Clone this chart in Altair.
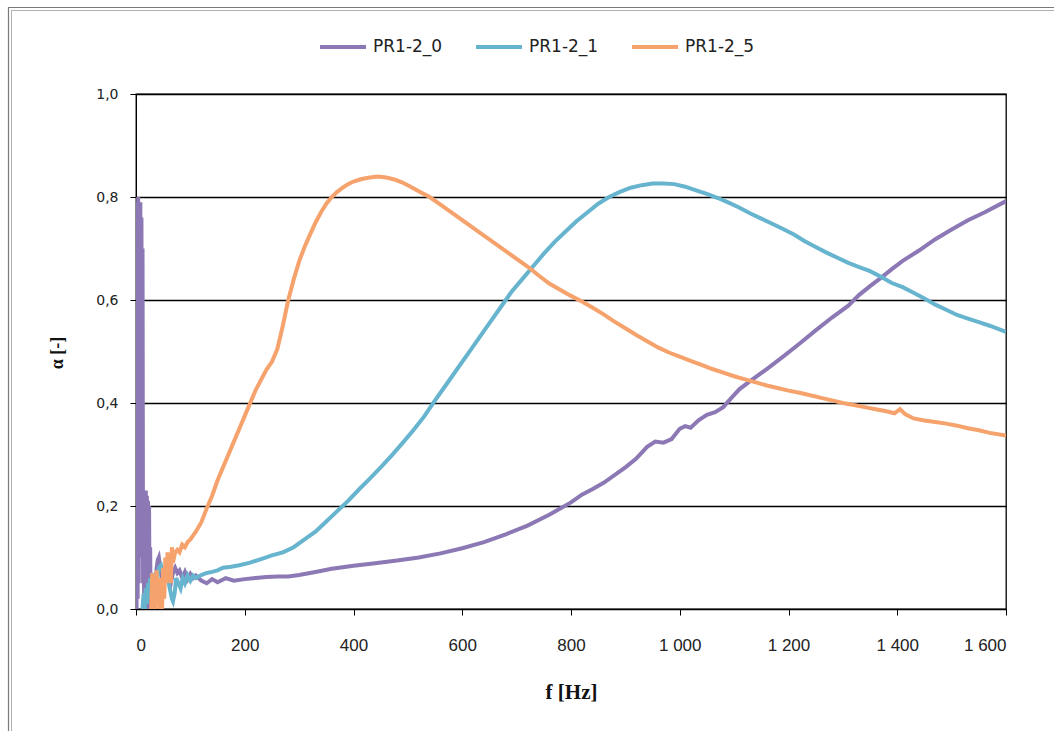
import altair as alt
import pandas as pd

# ---- data ----
series_names = ["PR1-2_0", "PR1-2_1", "PR1-2_5"]
series_colors = ["#8c78b4", "#67b4cf", "#f6a26c"]

pr0_f = [1, 2, 3, 4, 5, 6, 7, 8, 9, 10, 11, 12, 13, 14, 15, 16, 17, 18, 19, 20,
         21, 22, 23, 24, 25, 26, 27, 28, 30, 32, 34, 36, 38, 40, 42, 44, 46, 48,
         50, 53, 56, 60, 64, 68, 72, 76, 80, 85, 90, 95, 100, 105, 110, 120, 130,
         140, 150, 165, 180, 200, 220, 240, 260, 280, 300, 330, 360, 400, 440,
         480, 520, 560, 600, 640, 680, 720, 760, 800, 820, 840, 860, 880, 900,
         920, 940, 955, 970, 985, 1000, 1010, 1020, 1035, 1050, 1065, 1080, 1095,
         1110, 1130, 1160, 1190, 1220, 1250, 1280, 1310, 1330, 1350, 1370, 1390,
         1410, 1440, 1470, 1500, 1530, 1560, 1600]
pr0_a = [0.0, 0.79, 0.02, 0.80, 0.05, 0.78, 0.10, 0.79, 0.15, 0.76, 0.20, 0.70,
         0.05, 0.23, 0.0, 0.22, 0.03, 0.23, 0.01, 0.22, 0.0, 0.21, 0.02, 0.20,
         0.0, 0.12, 0.0, 0.03, 0.05, 0.02, 0.06, 0.04, 0.08, 0.095, 0.10, 0.085,
         0.07, 0.06, 0.055, 0.065, 0.075, 0.06, 0.05, 0.07, 0.08, 0.07, 0.075,
         0.06, 0.072, 0.058, 0.068, 0.06, 0.065, 0.055, 0.05, 0.058, 0.052, 0.06,
         0.055, 0.058, 0.06, 0.062, 0.063, 0.063, 0.066, 0.072, 0.078, 0.084,
         0.089, 0.094, 0.10, 0.108, 0.118, 0.13, 0.145, 0.162, 0.183, 0.207,
         0.222, 0.233, 0.245, 0.26, 0.275, 0.292, 0.315, 0.325, 0.323, 0.33,
         0.35, 0.355, 0.352, 0.367, 0.377, 0.382, 0.392, 0.41, 0.427, 0.443,
         0.466, 0.49, 0.515, 0.541, 0.566, 0.589, 0.61, 0.627, 0.643, 0.66,
         0.676, 0.696, 0.718, 0.737, 0.755, 0.77, 0.792]

pr1_f = [12, 14, 16, 18, 20, 22, 24, 26, 28, 30, 32, 35, 38, 42, 46, 50, 54, 58,
         62, 66, 68, 71, 74, 78, 82, 86, 90, 95, 100, 105, 110, 120, 130, 140,
         150, 160, 175, 190, 210, 230, 250, 270, 290, 310, 330, 350, 370, 390,
         410, 430, 450, 470, 490, 510, 530, 550, 570, 590, 610, 630, 650, 670,
         690, 710, 730, 750, 770, 790, 810, 830, 850, 870, 890, 910, 930, 950,
         970, 990, 1010, 1030, 1050, 1070, 1090, 1110, 1130, 1150, 1170, 1190,
         1210, 1230, 1250, 1270, 1290, 1310, 1330, 1350, 1370, 1390, 1410, 1430,
         1450, 1470, 1490, 1510, 1530, 1550, 1570, 1600]
pr1_a = [0.0, 0.03, 0.0, 0.04, 0.01, 0.05, 0.02, 0.06, 0.03, 0.07, 0.04, 0.07,
         0.05, 0.08, 0.085, 0.07, 0.06, 0.065, 0.04, 0.02, 0.015, 0.03, 0.06,
         0.05, 0.04, 0.06, 0.05, 0.065, 0.055, 0.065, 0.06, 0.066, 0.07, 0.072,
         0.075, 0.08, 0.082, 0.085, 0.09, 0.097, 0.104, 0.11, 0.12, 0.135, 0.15,
         0.17, 0.19, 0.21, 0.232, 0.253, 0.275, 0.298, 0.322, 0.347, 0.374,
         0.405, 0.435, 0.465, 0.495, 0.525, 0.555, 0.585, 0.615, 0.64, 0.665,
         0.69, 0.713, 0.733, 0.753, 0.77, 0.787, 0.80, 0.81, 0.818, 0.823, 0.826,
         0.826, 0.825, 0.82, 0.813, 0.806, 0.798, 0.789, 0.779, 0.768, 0.758,
         0.748, 0.738, 0.727, 0.714, 0.703, 0.692, 0.682, 0.672, 0.664, 0.656,
         0.645, 0.633, 0.625, 0.614, 0.603, 0.591, 0.581, 0.571, 0.564, 0.557,
         0.55, 0.538]

pr5_f = [28, 30, 32, 34, 36, 38, 40, 42, 44, 46, 48, 50, 52, 54, 56, 58, 60, 62,
         64, 66, 68, 72, 76, 80, 85, 90, 95, 100, 110, 120, 130, 140, 150, 160,
         170, 180, 190, 200, 210, 220, 230, 240, 250, 260, 270, 280, 290, 300,
         310, 320, 330, 340, 350, 360, 370, 380, 390, 400, 415, 430, 445, 460,
         475, 490, 505, 520, 540, 560, 580, 600, 620, 640, 660, 680, 700, 720,
         740, 760, 780, 800, 820, 840, 860, 880, 900, 920, 940, 960, 980, 1000,
         1020, 1040, 1060, 1080, 1100, 1120, 1140, 1160, 1180, 1200, 1220, 1240,
         1260, 1280, 1300, 1320, 1340, 1360, 1380, 1395, 1405, 1415, 1430, 1450,
         1470, 1490, 1510, 1530, 1550, 1570, 1600]
pr5_a = [0.0, 0.07, 0.0, 0.06, 0.0, 0.075, 0.01, 0.06, 0.0, 0.05, 0.0, 0.08,
         0.02, 0.10, 0.05, 0.11, 0.06, 0.10, 0.05, 0.12, 0.09, 0.11, 0.115, 0.11,
         0.125, 0.12, 0.13, 0.135, 0.15, 0.168, 0.195, 0.22, 0.25, 0.275, 0.30,
         0.325, 0.35, 0.375, 0.40, 0.425, 0.445, 0.465, 0.48, 0.505, 0.55, 0.60,
         0.64, 0.675, 0.703, 0.727, 0.75, 0.77, 0.787, 0.80, 0.81, 0.818, 0.825,
         0.83, 0.835, 0.838, 0.84, 0.838, 0.834, 0.828, 0.82, 0.811, 0.80, 0.785,
         0.77, 0.755, 0.74, 0.725, 0.71, 0.695, 0.68, 0.665, 0.648, 0.632, 0.62,
         0.608, 0.597, 0.585, 0.572, 0.558, 0.545, 0.532, 0.52, 0.508, 0.498,
         0.49, 0.482, 0.474, 0.466, 0.459, 0.452, 0.446, 0.44, 0.434, 0.429,
         0.424, 0.42, 0.415, 0.41, 0.405, 0.40, 0.396, 0.392, 0.388, 0.384, 0.38,
         0.388, 0.378, 0.37, 0.366, 0.363, 0.36, 0.356, 0.351, 0.347, 0.342,
         0.337]

x_ticks = [0, 200, 400, 600, 800, 1000, 1200, 1400, 1600]
y_ticks = [0.0, 0.2, 0.4, 0.6, 0.8, 1.0]

frames = []
for name, fs, al in [("PR1-2_0", pr0_f, pr0_a), ("PR1-2_1", pr1_f, pr1_a),
                     ("PR1-2_5", pr5_f, pr5_a)]:
    assert len(fs) == len(al), name
    frames.append(pd.DataFrame({"f": fs, "a": al, "s": name}))
df = pd.concat(frames, ignore_index=True)
df["order"] = range(len(df))

W, H = 870, 515

lines = alt.Chart(df).mark_line(strokeWidth=4, clip=True).encode(
    x=alt.X("f:Q", scale=alt.Scale(domain=[0, 1600], nice=False),
            axis=alt.Axis(values=x_ticks, title="f [Hz]", grid=False,
                          labelExpr="replace(format(datum.value, ','), ',', ' ')",
                          labelFont="Liberation Sans", labelFontSize=17,
                          labelColor="#222222", labelPadding=22,
                          tickSize=6, tickColor="black", domainColor="black",
                          titleFont="Liberation Serif", titleFontSize=21,
                          titleFontWeight="bold", titleColor="#111111",
                          titleX=W / 2, titleY=83, titleBaseline="middle",
                          titleAlign="center")),
    y=alt.Y("a:Q", scale=alt.Scale(domain=[0, 1], nice=False),
            axis=alt.Axis(values=y_ticks, title="α [-]", grid=True,
                          gridColor="black", gridWidth=1.3, gridOpacity=1,
                          labelExpr="replace(format(datum.value, '.1f'), '.', ',')",
                          labelFont="DejaVu Sans", labelFontSize=14,
                          labelColor="#222222", labelPadding=12,
                          tickSize=6, tickColor="black", domainColor="black",
                          titleFont="Liberation Serif", titleFontSize=18,
                          titleFontWeight="bold", titleColor="#111111",
                          titleAngle=-90, titleX=-79, titleY=H / 2 + 1,
                          titleBaseline="middle", titleAlign="center")),
    color=alt.Color("s:N", scale=alt.Scale(domain=series_names, range=series_colors),
                    legend=alt.Legend(title=None, orient="none", direction="horizontal",
                                      legendX=182, legendY=-72, symbolType="stroke",
                                      symbolSize=2116, symbolStrokeWidth=4,
                                      labelFont="DejaVu Sans", labelFontSize=17,
                                      labelColor="#222222", labelOffset=5,
                                      columnPadding=25, padding=0)),
    detail="s:N",
    order="order:Q",
)

frame_outer = alt.Chart(pd.DataFrame({"k": [0]})).mark_rect(
    fill=None, stroke="#7a7a7a", strokeWidth=1.2
).encode(x=alt.value(-127.5), x2=alt.value(940), y=alt.value(-86.5), y2=alt.value(660))
frame_inner = alt.Chart(pd.DataFrame({"k": [0]})).mark_rect(
    fill=None, stroke="#b0b0b0", strokeWidth=1
).encode(x=alt.value(-124.5), x2=alt.value(937), y=alt.value(-83.5), y2=alt.value(657))

chart = alt.layer(frame_outer, frame_inner, lines).properties(
    width=W, height=H,
    autosize=alt.AutoSizeParams(type="none"),
    padding={"left": 136, "top": 94, "right": 48, "bottom": 122},
    background="white",
).configure_view(stroke="black", strokeWidth=1.3)

chart.save("out.html", embed_options={"renderer": "svg", "actions": False})
